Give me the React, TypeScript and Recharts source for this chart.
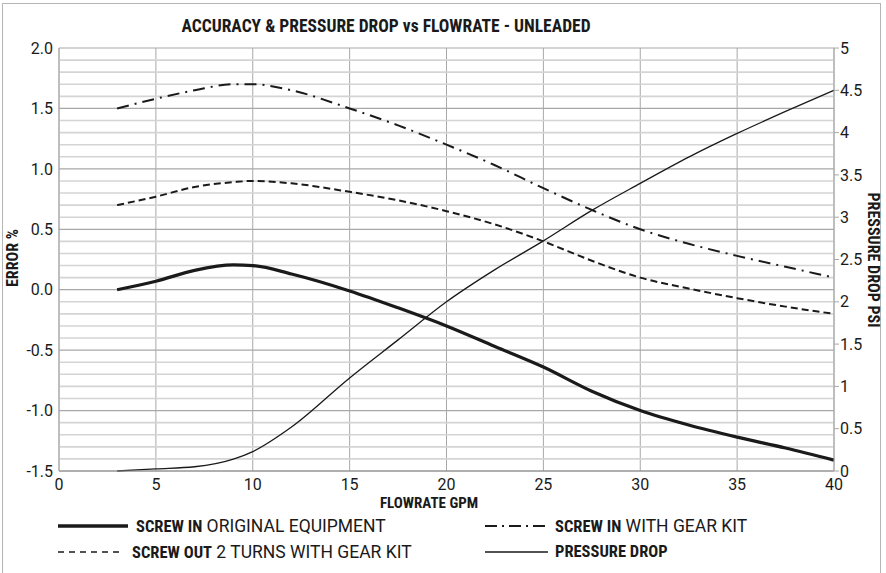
import { LineChart, Line, XAxis, YAxis, CartesianGrid, ReferenceLine } from 'recharts';

// flowrate (GPM) sample points
const flow = [3, 5, 7, 9, 10, 12, 15, 17.5, 20, 22.5, 25, 27.5, 30, 32.5, 35, 37.5, 40];

// error % (left axis)
const screwInOriginal = [0.0, 0.07, 0.16, 0.205, 0.2, 0.13, -0.01, -0.15, -0.3, -0.47, -0.64, -0.84, -1.0, -1.12, -1.22, -1.31, -1.41];
const screwInGearKit = [1.5, 1.58, 1.65, 1.7, 1.7, 1.65, 1.5, 1.36, 1.2, 1.03, 0.84, 0.66, 0.5, 0.38, 0.28, 0.19, 0.1];
const screwOutGearKit = [0.7, 0.77, 0.85, 0.89, 0.9, 0.88, 0.81, 0.74, 0.65, 0.54, 0.4, 0.24, 0.1, 0.01, -0.07, -0.14, -0.2];

// pressure drop psi (right axis)
const pressureDrop = [0, 0.025, 0.05, 0.14, 0.23, 0.52, 1.1, 1.55, 2.0, 2.38, 2.72, 3.08, 3.4, 3.71, 3.99, 4.25, 4.5];

const xTicks = [0, 5, 10, 15, 20, 25, 30, 35, 40];
const errTicks = [-1.5, -1.0, -0.5, 0.0, 0.5, 1.0, 1.5, 2.0];
const psiTicks = [0, 0.5, 1, 1.5, 2, 2.5, 3, 3.5, 4, 4.5, 5];

const data = flow.map((f, i) => ({
  flow: f,
  orig: screwInOriginal[i],
  gear: screwInGearKit[i],
  out: screwOutGearKit[i],
  psi: pressureDrop[i],
}));

// minor grid every 0.1 on the error axis (skip the 0.5 majors)
const minorErr: number[] = [];
for (let i = -15; i <= 20; i++) if (i % 5 !== 0) minorErr.push(i / 10);

const FONT = '"Roboto", "Liberation Sans", sans-serif';
const NARROW = '"Liberation Sans Narrow", "Roboto Condensed", "Roboto", sans-serif';
const INK = '#1a1a1a';
const tickStyle = { fontFamily: FONT, fontSize: 16, fill: INK };

const LegendItem = ({ x, y, dash, width, lineLen, gap, bold, rest }: { x: number; y: number; dash?: string; width: number; lineLen: number; gap: number; bold: string; rest: string }) => (
  <div style={{ position: 'absolute', left: x, top: y, display: 'flex', alignItems: 'center', color: INK, whiteSpace: 'pre' }}>
    <svg width={lineLen + gap} height={10}>
      <line x1={0} y1={5} x2={lineLen} y2={5} stroke={INK} strokeWidth={width} strokeDasharray={dash} />
    </svg>
    <span style={{ fontFamily: NARROW, fontWeight: 'bold', fontSize: 16.5 }}>{bold}</span>
    <span style={{ fontFamily: FONT, fontSize: 17.5 }}>{rest}</span>
  </div>
);

export default function App() {
  return (
    <div style={{ position: 'fixed', left: 0, top: 0, width: 886, height: 573, background: '#fff', overflow: 'hidden' }}>
      <div style={{ position: 'absolute', left: 2, top: 3, width: 877, height: 600, border: '1px solid #b5b5b5' }} />
      <div style={{ position: 'absolute', left: 0, top: 16, width: 772, textAlign: 'center', fontFamily: NARROW, fontWeight: 'bold', fontSize: 17.5, color: INK }}>
        ACCURACY &amp; PRESSURE DROP vs FLOWRATE - UNLEADED
      </div>
      <LineChart width={886} height={573} data={data} margin={{ top: 48, right: 0, bottom: 0, left: 0 }} style={{ position: 'absolute', left: 0, top: 0 }}>
        <CartesianGrid horizontal={false} stroke="#a8a8a8" strokeWidth={1} />
        {minorErr.map((v) => (
          <ReferenceLine key={'m' + v} yAxisId="err" y={v} stroke="#d4d4d4" strokeWidth={1.6} />
        ))}
        {errTicks.map((v) => (
          <ReferenceLine key={'M' + v} yAxisId="err" y={v} stroke="#a8a8a8" strokeWidth={1.2} />
        ))}
        <XAxis
          dataKey="flow"
          type="number"
          domain={[0, 40]}
          ticks={xTicks}
          height={102}
          tickLine={false}
          stroke="#8c8c8c"
          tick={tickStyle}
        />
        <YAxis
          yAxisId="err"
          type="number"
          domain={[-1.5, 2.0]}
          ticks={errTicks}
          width={59}
          tickLine={false}
          tickSize={4}
          tickMargin={2}
          stroke="#a8a8a8"
          tick={tickStyle}
          tickFormatter={(v: number) => v.toFixed(1)}
        />
        <YAxis
          yAxisId="psi"
          orientation="right"
          type="number"
          domain={[0, 5]}
          ticks={psiTicks}
          width={52}
          tickSize={5}
          tickMargin={1}
          stroke="#a8a8a8"
          tick={tickStyle}
        />
        <Line yAxisId="err" type="monotone" dataKey="gear" stroke={INK} strokeWidth={2} strokeDasharray="12 6 2 6" dot={false} isAnimationActive={false} />
        <Line yAxisId="err" type="monotone" dataKey="out" stroke={INK} strokeWidth={2} strokeDasharray="7 4" dot={false} isAnimationActive={false} />
        <Line yAxisId="psi" type="monotone" dataKey="psi" stroke={INK} strokeWidth={1.3} dot={false} isAnimationActive={false} />
        <Line yAxisId="err" type="monotone" dataKey="orig" stroke={INK} strokeWidth={3.2} dot={false} isAnimationActive={false} />
      </LineChart>
      <div style={{ position: 'absolute', left: 329, top: 494, width: 200, textAlign: 'center', fontFamily: NARROW, fontWeight: 'bold', fontSize: 15, color: INK }}>
        FLOWRATE GPM
      </div>
      <div style={{ position: 'absolute', left: 12, top: 258, width: 0, height: 0 }}>
        <div style={{ position: 'absolute', transform: 'translate(-50%, -50%) rotate(-90deg)', fontFamily: NARROW, fontWeight: 'bold', fontSize: 16, color: INK, whiteSpace: 'nowrap' }}>
          ERROR %
        </div>
      </div>
      <div style={{ position: 'absolute', left: 873, top: 260, width: 0, height: 0 }}>
        <div style={{ position: 'absolute', transform: 'translate(-50%, -50%) rotate(90deg)', fontFamily: NARROW, fontWeight: 'bold', fontSize: 16, color: INK, whiteSpace: 'nowrap' }}>
          PRESSURE DROP PSI
        </div>
      </div>
      <LegendItem x={58} y={516} width={3.5} lineLen={70} gap={8} bold="SCREW IN" rest=" ORIGINAL EQUIPMENT" />
      <LegendItem x={58} y={542} width={1.5} lineLen={65} gap={9} dash="6 5" bold="SCREW OUT" rest=" 2 TURNS WITH GEAR KIT" />
      <LegendItem x={485} y={516} width={2} lineLen={63} gap={7} dash="12 5 2 5" bold="SCREW IN" rest=" WITH GEAR KIT" />
      <LegendItem x={485} y={542} width={1.3} lineLen={63} gap={7} bold="PRESSURE DROP" rest="" />
    </div>
  );
}
